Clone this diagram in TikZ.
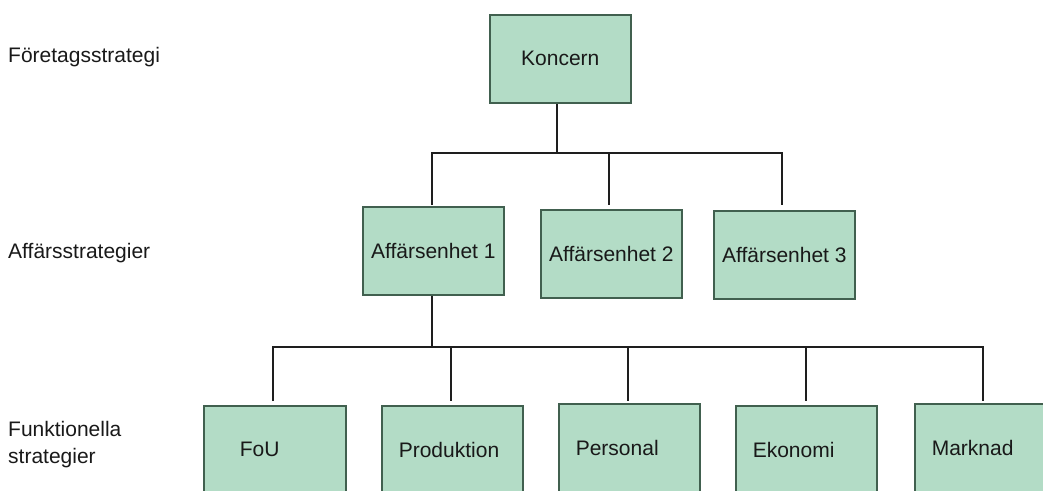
\documentclass[tikz,border=0pt]{standalone}
\usepackage{fontspec}
\setmainfont{Liberation Sans}
\definecolor{boxfill}{HTML}{B3DCC6}
\definecolor{boxline}{HTML}{41604F}
\definecolor{wire}{HTML}{1E1E1E}
\begin{document}
\begin{tikzpicture}[x=1pt,y=-1pt,
  box/.style={draw=boxline,line width=1.6pt,fill=boxfill,anchor=north west,
    minimum width=141pt,minimum height=88pt,inner sep=0pt,
    font=\fontsize{21pt}{24pt}\selectfont,text=black!90},
  lbox/.style={box,align=left,text width=107pt,inner xsep=17pt},
  wirestyle/.style={draw=wire,line width=1.5pt},
  level/.style={anchor=west,align=left,inner sep=0pt,
    font=\fontsize{21pt}{27pt}\selectfont,text=black!90}]
\useasboundingbox (0,0) rectangle (1043,490);
\begin{scope}
\clip (0,0) rectangle (1043,490);

% strategy levels
\node[level] (lvl1) at (8,57) {Företagsstrategi};
\node[level] (lvl2) at (8,253) {Affärsstrategier};
\node[level] (lvl3) at (8,445) {Funktionella\\strategier};

% bus and drop heights
\coordinate (bus1) at (0,153);
\coordinate (drop1) at (0,205);
\coordinate (bus2) at (0,347);
\coordinate (drop2) at (0,401);

% connectors
\coordinate (kbot) at (557,100);
\draw[wirestyle] (kbot) -- (kbot |- bus1);
\draw[wirestyle] (432,205) |- (782,153) -- (782,205);
\draw[wirestyle] (609,153) -- (609,205);
\draw[wirestyle] (432,295) -- (432,347);
\draw[wirestyle] (273,401) |- (983,347) -- (983,401);
\draw[wirestyle] (451,347) -- (451,401);
\draw[wirestyle] (628,347) -- (628,401);
\draw[wirestyle] (806,347) -- (806,401);

% corporate level
\node[box] (k) at (489,14) {Koncern};

% business units
\node[box] (a1) at (362,206) {Affärsenhet 1};
\node[box] (a2) at (540,209) {Affärsenhet 2};
\node[box] (a3) at (713,210) {Affärsenhet 3};

% functions
\node[lbox,text width=70pt,inner xsep=36pt] (f1) at (203,405) {FoU};
\node[lbox] (f2) at (381,405) {Produktion};
\node[lbox] (f3) at (558,403) {Personal};
\node[lbox] (f4) at (735,405) {Ekonomi};
\node[lbox] (f5) at (914,403) {Marknad};
\end{scope}
\end{tikzpicture}
\end{document}
